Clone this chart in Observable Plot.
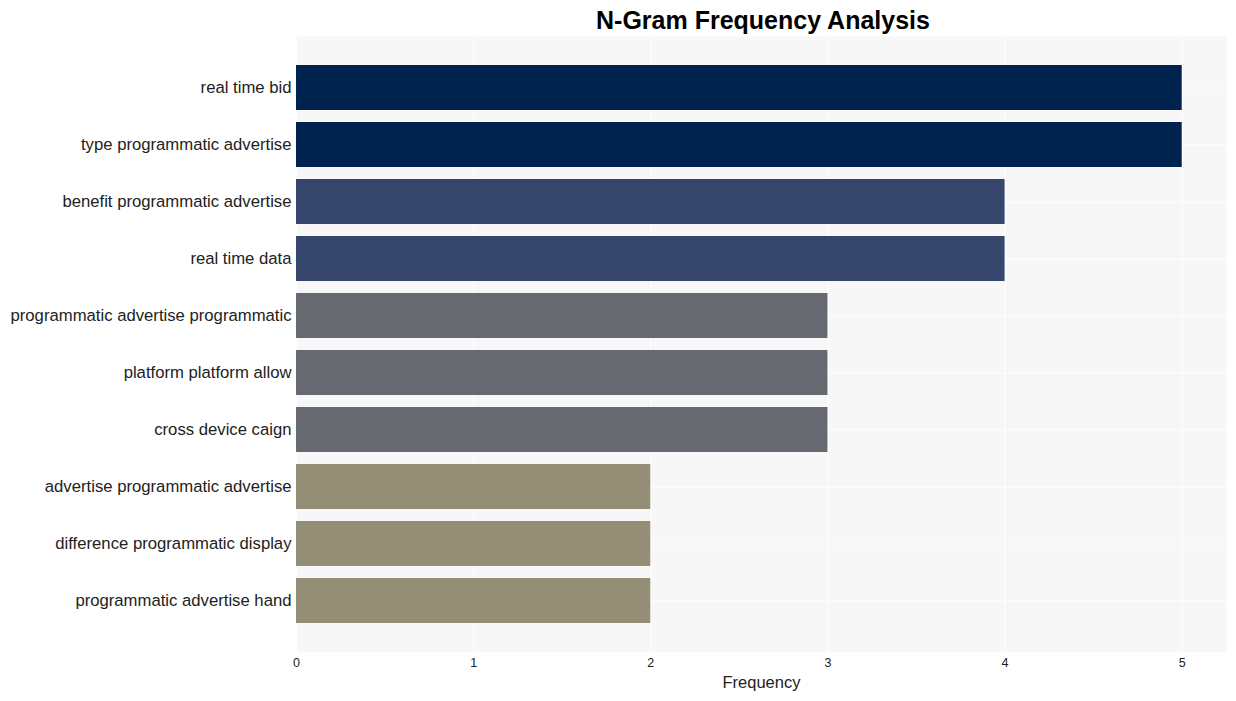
<!DOCTYPE html>
<html>
<head>
<meta charset="utf-8">
<script src="https://cdn.jsdelivr.net/npm/d3@7"></script>
<script src="https://cdn.jsdelivr.net/npm/@observablehq/plot@0.6"></script>
<style>
  html, body { margin: 0; padding: 0; background: #fff; }
  #title { width: 1236px; height: 36px; box-sizing: border-box; padding-left: 290px; text-align: center;
    font-family: "Liberation Sans", Arial, sans-serif; font-weight: bold; font-size: 25px; line-height: 40px; color: #000; }
</style>
</head>
<body>
<div id="title">N-Gram Frequency Analysis</div>
<div id="chart"></div>
<script>
const ngrams = [
  "real time bid",
  "type programmatic advertise",
  "benefit programmatic advertise",
  "real time data",
  "programmatic advertise programmatic",
  "platform platform allow",
  "cross device caign",
  "advertise programmatic advertise",
  "difference programmatic display",
  "programmatic advertise hand"
];
const frequencies = [5, 5, 4, 4, 3, 3, 3, 2, 2, 2];
const colorValues = [2, 3, 4, 5];
const colorRange = ["#948e77", "#666970", "#35456c", "#00224e"];
const xTicks = [0, 1, 2, 3, 4, 5];

const data = ngrams.map((n, i) => ({ngram: n, freq: frequencies[i]}));

const chart = Plot.plot({
  width: 1236,
  height: 665,
  marginTop: 0,
  marginBottom: 49,
  marginLeft: 296,
  marginRight: 10,
  style: { fontFamily: "'Liberation Sans', Arial, sans-serif", background: "#fff" },
  x: { domain: [0, 5.25], ticks: xTicks, label: null },
  y: { domain: ngrams, paddingInner: 0.21, paddingOuter: 0.47, label: null },
  color: { domain: colorValues, range: colorRange, type: "ordinal" },
  marks: [
    Plot.frame({ fill: "#f7f7f7", stroke: null }),
    Plot.gridX(xTicks, { stroke: "#fff", strokeOpacity: 1, strokeWidth: 1 }),
    Plot.gridY(ngrams, { stroke: "#fff", strokeOpacity: 1, strokeWidth: 1 }),
    Plot.barX(data, { x: "freq", y: "ngram", fill: d => d.freq }),
    Plot.axisX(xTicks, { tickSize: 0, tickPadding: 6, fontSize: 12.5, fill: "#222", label: null, tickFormat: d3.format("d") }),
    Plot.axisY(ngrams, { tickSize: 0, tickPadding: 5, fontSize: 16.7, fill: "#222", label: null }),
    Plot.text(["Frequency"], { frameAnchor: "bottom", dy: 35, fontSize: 16.5, fill: "#222" })
  ]
});
document.getElementById("chart").appendChild(chart);
</script>
</body>
</html>
